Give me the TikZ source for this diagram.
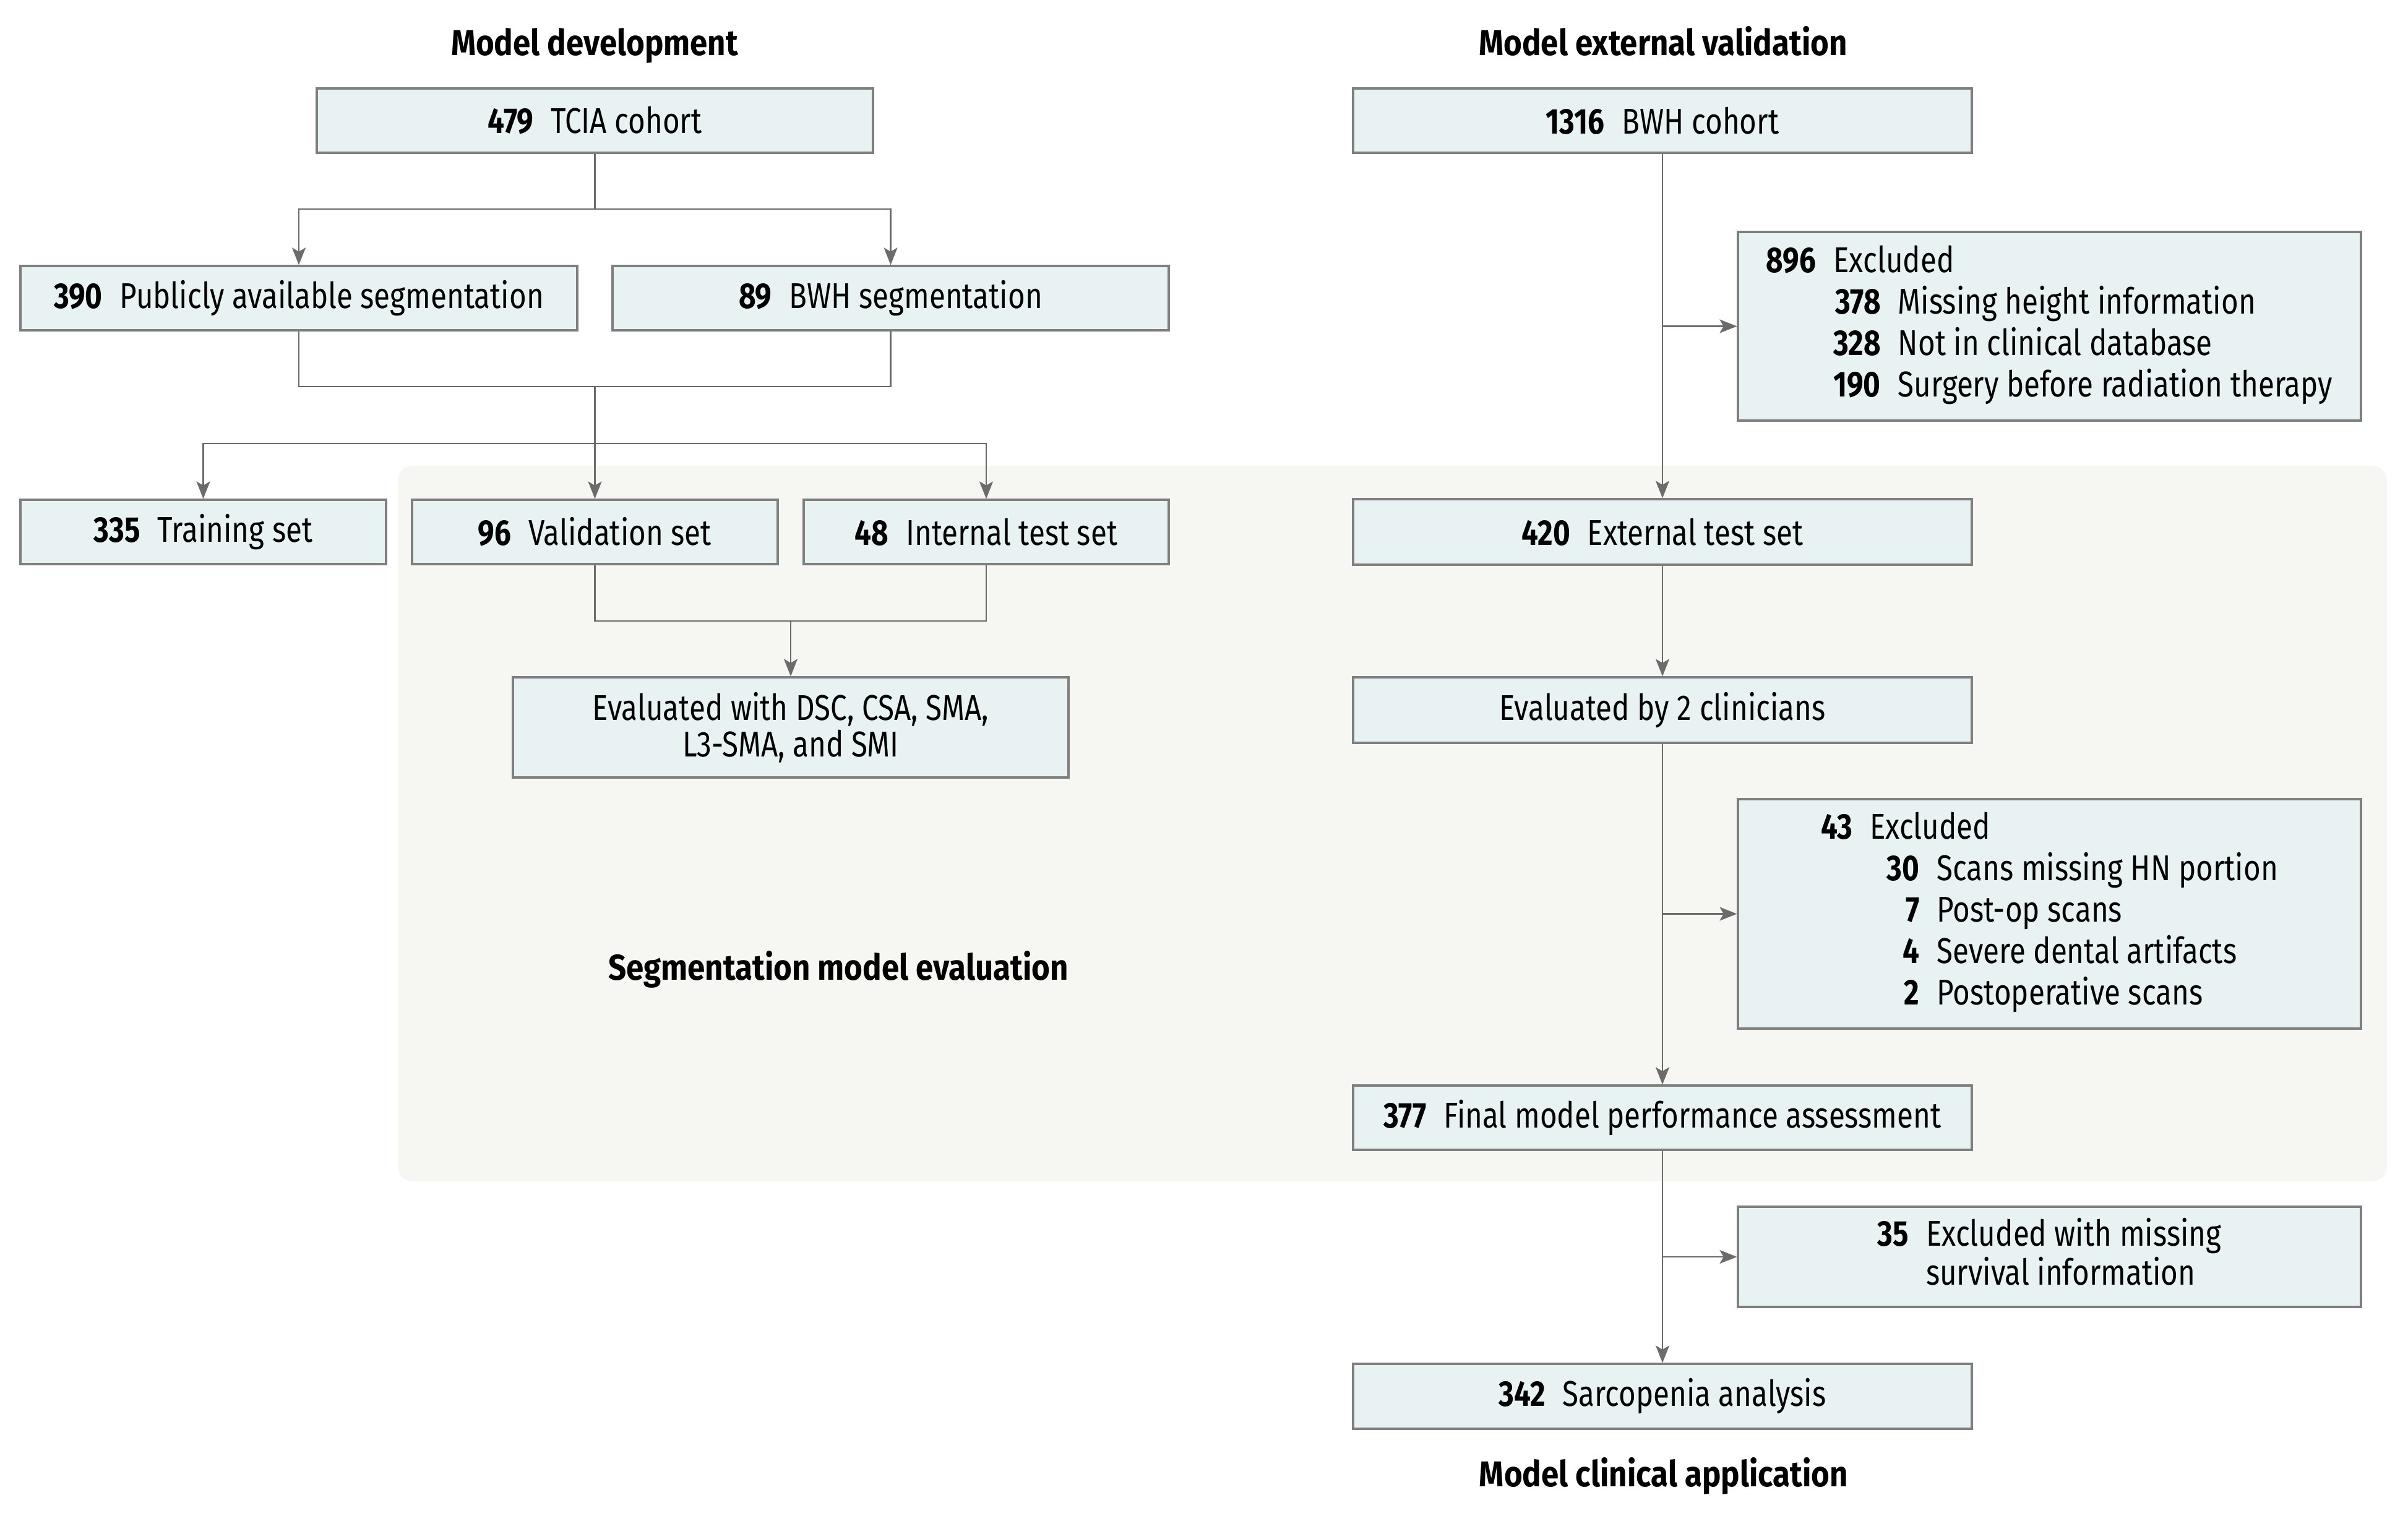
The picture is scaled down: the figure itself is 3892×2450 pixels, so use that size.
\documentclass[tikz,border=0pt]{standalone}
\usepackage{fontspec}
\setmainfont{Fira Sans}[FakeStretch=0.82]
\newfontfamily\ttlfont{Fira Sans}[FakeStretch=0.88]
\usetikzlibrary{arrows.meta}
\definecolor{boxfill}{HTML}{E9F2F3}
\definecolor{boxline}{HTML}{7F7F7F}
\definecolor{conncol}{HTML}{6B6B6B}
\definecolor{regioncol}{HTML}{F6F7F2}
\newcommand\nm[1]{\textbf{#1}\hspace{7pt}}
\begin{document}
\begin{tikzpicture}[x=0.25pt,y=-0.25pt,
  font=\fontsize{14.5pt}{16.75pt}\selectfont,
  box/.style={draw=boxline, fill=boxfill, line width=0.8pt, inner sep=0pt, align=center, text=black},
  bx/.style n args={2}{box, minimum width=#1*0.25pt, minimum height=#2*0.25pt},
  ttl/.style={font=\ttlfont\fontsize{14.5pt}{16pt}\selectfont\bfseries, inner sep=0pt, anchor=base},
  conn/.style={draw=conncol, line width=0.6pt},
  arr/.style={conn, -{Stealth[length=7pt,width=5.5pt,inset=1.6pt]}},
  tight/.style={font=\fontsize{14.5pt}{14.75pt}\selectfont}]
\useasboundingbox (0,0) rectangle (3892,2450);

% shaded region
\node[fill=regioncol, rounded corners=6pt, inner sep=0pt, minimum width=3215*0.25pt, minimum height=1157*0.25pt] (reg) at (2250.5,1331.5) {};

% titles
\node[ttl] (t1) at (961,90) {Model development};
\node[ttl] (t2) at (2688,90) {Model external validation};
\node[ttl] (t3) at (2689,2403) {Model clinical application};
\node[ttl] (t4) at (1355,1584) {Segmentation model evaluation};

% left column boxes
\node[bx={899}{104}] (tcia) at (961.5,195) {\nm{479}TCIA cohort};
\node[bx={900}{104}] (pub) at (483,482) {\nm{390}Publicly available segmentation};
\node[bx={899}{104}] (bseg) at (1439.5,482) {\nm{89}BWH segmentation};
\node[bx={591}{104}] (train) at (328.5,860) {\nm{335}Training set};
\node[bx={591}{104}] (valid) at (961.5,860) {\nm{96}Validation set};
\node[bx={590}{104}] (intl) at (1594,860) {\nm{48}Internal test set};
\node[bx={898}{162}, tight] (edsc) at (1278,1176) {Evaluated with DSC, CSA, SMA,\\L3-SMA, and SMI};

% right column boxes
\node[bx={1000}{104}] (bwhc) at (2687,195) {\nm{1316}BWH cohort};
\node[bx={1007}{305}] (ex1) at (3312.5,527.5) {\begin{tabular}{@{}l@{\hspace{7pt}}r@{\hspace{7pt}}l@{}}
\textbf{896} & \multicolumn{2}{@{}l@{}}{Excluded}\\
 & \textbf{378} & Missing height information\\
 & \textbf{328} & Not in clinical database\\
 & \textbf{190} & Surgery before radiation therapy
\end{tabular}};
\node[bx={1000}{106}] (ext) at (2687,860) {\nm{420}External test set};
\node[bx={1000}{106}] (eclin) at (2687,1148) {Evaluated by 2 clinicians};
\node[bx={1007}{371}] (ex2) at (3312.5,1477.5) {\begin{tabular}{@{}l@{\hspace{7pt}}r@{\hspace{7pt}}l@{}}
\textbf{43} & \multicolumn{2}{@{}l@{}}{Excluded}\\
 & \textbf{\phantom{0}30} & Scans missing HN portion\\
 & \textbf{7} & Post-op scans\\
 & \textbf{4} & Severe dental artifacts\\
 & \textbf{2} & Postoperative scans
\end{tabular}};
\node[bx={1000}{104}] (final) at (2687,1807) {\nm{377}Final model performance assessment};
\node[bx={1007}{162}, tight] (ex3) at (3312.5,2032) {\begin{tabular}{@{}l@{\hspace{7pt}}l@{}}
\textbf{35} & Excluded with missing\\
 & survival information
\end{tabular}};
\node[bx={1000}{105}] (sarc) at (2687,2257.5) {\nm{342}Sarcopenia analysis};

% left connectors
\coordinate (j1) at (961.5,338);
\coordinate (m1) at (961.5,625);
\coordinate (s1) at (961.5,717);
\coordinate (m2) at (1278,1004);
\draw[conn] (tcia.south) -- (j1);
\draw[arr] (j1) -| (pub.north);
\draw[arr] (j1) -| (bseg.north);
\draw[conn] (pub.south) |- (m1) -| (bseg.south);
\draw[conn] (m1) -- (s1);
\draw[arr] (s1) -| (train.north);
\draw[arr] (s1) -- (valid.north);
\draw[arr] (s1) -| (intl.north);
\draw[conn] (valid.south) |- (m2) -| (intl.south);
\draw[arr] (m2) -- (edsc.north);

% right connectors
\coordinate (b1) at (bwhc.south |- ex1.west);
\coordinate (b2) at (eclin.south |- ex2.west);
\coordinate (b3) at (final.south |- ex3.west);
\draw[arr] (bwhc.south) -- (ext.north);
\draw[arr] (b1) -- (ex1.west);
\draw[arr] (ext.south) -- (eclin.north);
\draw[arr] (eclin.south) -- (final.north);
\draw[arr] (b2) -- (ex2.west);
\draw[arr] (final.south) -- (sarc.north);
\draw[arr] (b3) -- (ex3.west);
\end{tikzpicture}
\end{document}
